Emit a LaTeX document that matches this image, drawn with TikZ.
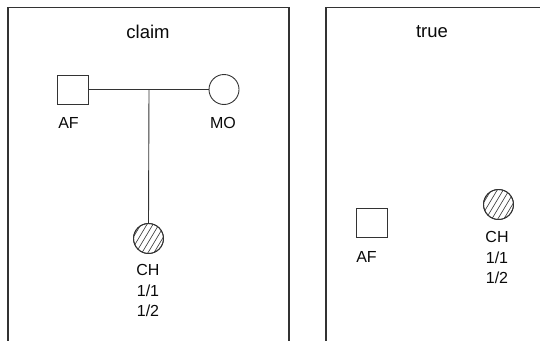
\documentclass[tikz,border=0pt]{standalone}
\usepackage{fontspec}
\setmainfont{Liberation Sans}
\definecolor{ln}{HTML}{333333}
\definecolor{tx}{HTML}{0A0A0A}
\tikzset{
  panel/.style={draw=ln, line width=1.3pt},
  male/.style={draw=ln, line width=0.9pt, rectangle, minimum width=31pt, minimum height=29pt, inner sep=0pt},
  female/.style={draw=ln, line width=0.9pt, circle, minimum size=30pt, inner sep=0pt},
  conn/.style={draw=ln, line width=0.9pt},
  lbl/.style={text=tx, font=\fontsize{16}{20.3}\selectfont, align=center, inner sep=0pt},
  ttl/.style={text=tx, font=\fontsize{18.5}{20}\selectfont, inner sep=0pt},
  hatch/.style={draw=ln, line width=0.6pt}
}
\begin{document}
\begin{tikzpicture}[x=1pt,y=-1pt]
\useasboundingbox (0,0) rectangle (540,340);
\clip (0,0) rectangle (540,340);
\fill[white] (0,0) rectangle (540,340);
% panels
\draw[panel] (8,350) -- (8,7.5) -- (289,7.5) -- (289,350);
\draw[panel] (326,350) -- (326,7.5) -- (550,7.5);
\node[ttl] (t1) at (148,31.5) {claim};
\node[ttl] (t2) at (432,31.5) {true};
% claim pedigree
\node[male] (af1) at (73,89.5) {};
\node[female] (mo1) at (224,89.5) {};
\node[female] (ch1) at (148.5,238.5) {};
\begin{scope}
\clip (ch1.center) circle (15pt);
\foreach \i in {-40,-34,...,40} \draw[hatch] ([xshift=\i pt-12pt]ch1.center) ++(0,20) -- ++(24,-40);
\end{scope}
\node[female, fill=none] at (ch1.center) {};
\coordinate (j1) at (149,89.5);
\draw[conn] (af1.east) -- (mo1.west);
\draw[conn] (j1) -- (ch1.north);
\node[lbl] (laf1) at (68.5,123) {AF};
\node[lbl] (lmo1) at (223,123) {MO};
\node[lbl, anchor=north] (lch1) at (148,264.5) {CH\\1/1\\1/2};
% true pedigree
\node[male] (af2) at (371.5,222.5) {};
\node[female] (ch2) at (498.5,204.5) {};
\begin{scope}
\clip (ch2.center) circle (15pt);
\foreach \i in {-40,-34,...,40} \draw[hatch] ([xshift=\i pt-12pt]ch2.center) ++(0,20) -- ++(24,-40);
\end{scope}
\node[female] at (ch2.center) {};
\node[lbl] (laf2) at (366.5,257) {AF};
\node[lbl, anchor=north] (lch2) at (497,231.5) {CH\\1/1\\1/2};
\end{tikzpicture}
\end{document}
